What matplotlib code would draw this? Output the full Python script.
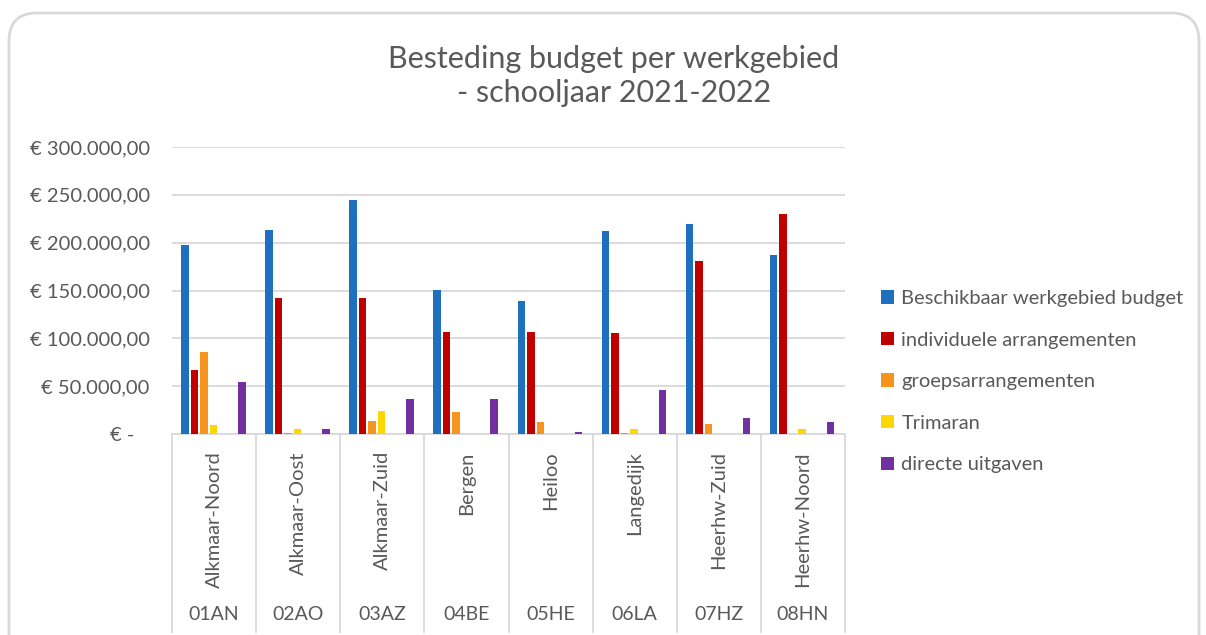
import matplotlib
matplotlib.use("Agg")
import matplotlib.pyplot as plt
from matplotlib.patches import FancyBboxPatch, Patch
import numpy as np

plt.rcParams['font.family'] = ['Lato', 'DejaVu Sans']

# werkgebieden
codes = ["01AN", "02AO", "03AZ", "04BE", "05HE", "06LA", "07HZ", "08HN"]
namen = ["Alkmaar-Noord", "Alkmaar-Oost", "Alkmaar-Zuid", "Bergen", "Heiloo",
         "Langedijk", "Heerhw-Zuid", "Heerhw-Noord"]

beschikbaar = [197600, 213600, 244300, 150500, 139400, 212200, 219500, 187500]
individueel = [66500, 141800, 141800, 107000, 107000, 105600, 181000, 229600]
groeps = [86000, 1000, 13600, 23300, 12200, 1000, 10800, 0]
trimaran = [9800, 4900, 24400, 0, 0, 4900, 0, 4900]
direct = [54000, 4900, 36600, 36600, 2400, 45600, 17000, 12200]

series = [beschikbaar, individueel, groeps, trimaran, direct]
labels = ["Beschikbaar werkgebied budget", "individuele arrangementen",
          "groepsarrangementen", "Trimaran", "directe uitgaven"]
colors = ["#1F6FBF", "#C00000", "#F7941D", "#FFD700", "#7030A0"]
slots = [0, 1, 2, 3, 6]  # two empty slots between Trimaran and directe uitgaven

grey = "#595959"
W, H = 1206, 635
fig = plt.figure(figsize=(W / 100, H / 100), dpi=100)

# rounded chart border
bg = fig.add_axes([0, 0, 1, 1], zorder=-5)
bg.set_xlim(0, W)
bg.set_ylim(H, 0)
bg.axis("off")
bg.add_patch(FancyBboxPatch((9, 13), 1190, 700, boxstyle="round,pad=0,rounding_size=28",
                            fill=False, edgecolor="#D9D9D9", linewidth=2))

ax = fig.add_axes([172 / W, 1 - 434 / H, (845 - 172) / W, (434 - 147) / H])
x = np.arange(len(codes))
pitch = 0.113
width = 0.089
for s, vals, lab, col in zip(slots, series, labels, colors):
    ax.bar(x - 0.348 + s * pitch, vals, width=width, color=col, label=lab, zorder=3)

ax.set_xlim(-0.5, len(codes) - 0.5)
ax.set_ylim(0, 300000)
ticks = np.arange(0, 300001, 50000)
ax.set_yticks(ticks)
ticklabels = []
for t in ticks:
    if t == 0:
        ticklabels.append("€ -   ")
    else:
        ticklabels.append("€ " + "{:,.2f}".format(t).replace(",", "X").replace(".", ",").replace("X", "."))
ax.set_yticklabels(ticklabels, fontsize=14.5, color=grey)
ax.tick_params(axis="y", length=0, pad=16)
ax.tick_params(axis="x", length=0, labelbottom=False)
ax.grid(axis="y", color="#D9D9D9", linewidth=1.3, zorder=0)
for sp in ["top", "right", "left"]:
    ax.spines[sp].set_visible(False)
ax.spines["bottom"].set_color("#D9D9D9")
ax.spines["bottom"].set_linewidth(1.3)

# two level category axis
trans = ax.get_xaxis_transform()
for i in range(len(codes) + 1):
    ax.plot([i - 0.5, i - 0.5], [0, -0.69], transform=trans, color="#D9D9D9",
            linewidth=1.3, clip_on=False)
for i in range(len(codes)):
    ax.text(i, -0.06, namen[i], transform=trans, rotation=90, ha="center", va="top",
            fontsize=14.5, color=grey)
    ax.text(i, -0.63, codes[i], transform=trans, ha="center", va="center",
            fontsize=14, color=grey)

fig.text(614 / W, 1 - 76 / H, "Besteding budget per werkgebied\n- schooljaar 2021-2022",
         ha="center", va="center", fontsize=22, color=grey, linespacing=1.3)

handles = [Patch(facecolor=c, label=l) for c, l in zip(colors, labels)]
fig.legend(handles=handles, loc="upper left", bbox_to_anchor=(863 / W, 1 - 272 / H),
           frameon=False, fontsize=14.5, labelcolor=grey, handlelength=0.65,
           handleheight=0.65, handletextpad=0.35, labelspacing=1.22)

fig.savefig("out.png", dpi=100)
